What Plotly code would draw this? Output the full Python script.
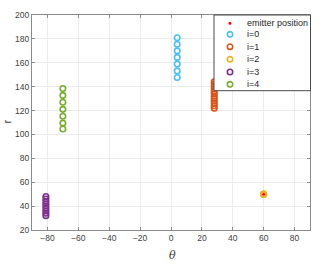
import plotly.graph_objects as go

# Data
emitter_theta = [60]
emitter_r = [50]

theta_i0 = [4, 4, 4, 4, 4, 4, 4]
r_i0 = [181, 175.5, 170, 164.5, 159, 153.2, 147.7]

theta_i1 = [28, 28, 28, 28, 28, 28, 28, 28, 28, 28, 28, 28]
r_i1 = [144, 142, 140, 138, 136, 134, 132, 130, 128, 126, 124, 122]

theta_i2 = [60, 60, 60]
r_i2 = [50, 50, 50]

theta_i3 = [-81, -81, -81, -81, -81, -81, -81, -81, -81]
r_i3 = [48, 46, 44, 42, 40, 38, 36, 34, 32]

theta_i4 = [-70, -70, -70, -70, -70, -70, -70]
r_i4 = [138.5, 132.7, 126.9, 121, 115.2, 109.5, 104.6]

x_ticks = [-80, -60, -40, -20, 0, 20, 40, 60, 80]
y_ticks = [20, 40, 60, 80, 100, 120, 140, 160, 180, 200]

series = [
    ("i=0", theta_i0, r_i0, "#4DBEEE"),
    ("i=1", theta_i1, r_i1, "#D95319"),
    ("i=2", theta_i2, r_i2, "#EDB120"),
    ("i=3", theta_i3, r_i3, "#7E2F8E"),
    ("i=4", theta_i4, r_i4, "#77AC30"),
]

fig = go.Figure()
for name, xs, ys, col in series:
    fig.add_trace(go.Scatter(x=xs, y=ys, mode="markers", name=name, showlegend=False,
                             marker=dict(symbol="circle-open", size=5.5, color=col,
                                         line=dict(width=1.6, color=col))))
fig.add_trace(go.Scatter(x=emitter_theta, y=emitter_r, mode="markers", name="emitter position",
                         showlegend=False, marker=dict(color="red", size=3, symbol="circle")))

axis_common = dict(showline=True, linecolor="#8a8a8a", linewidth=1, mirror="ticks",
                   ticks="inside", ticklen=3, tickcolor="#8a8a8a", automargin=False,
                   showgrid=True, gridcolor="#ebebeb", gridwidth=1, zeroline=False,
                   tickfont=dict(family="Liberation Sans, Arial", size=8.5, color="#404040"))

fig.update_xaxes(range=[-90, 90], tickvals=x_ticks, **axis_common)
fig.update_yaxes(range=[20, 200], tickvals=y_ticks, **axis_common)

# --- manual legend (MATLAB-like compact box) ---
W, H, L, T = 278.0, 215.0, 32.0, 15.0
def px_x(px):
    return (px - L) / W
def px_y(py):
    return 1 - (py - T) / H

shapes = [dict(type="rect", xref="paper", yref="paper",
               x0=px_x(214), x1=px_x(310.5), y0=px_y(90.7), y1=1.0,
               line=dict(color="#4a4a4a", width=1), fillcolor="white", layer="above")]
annotations = []
entries = [("emitter position", "red", True)] + [(n, c, False) for n, _, _, c in series]
ys_px = [23.3, 34.3, 46.7, 59.3, 72, 84.3]
mx = px_x(230)
for (label, col, filled), ypx in zip(entries, ys_px):
    yc = px_y(ypx)
    if filled:
        shapes.append(dict(type="circle", xref="paper", yref="paper", xsizemode="pixel", ysizemode="pixel",
                           xanchor=mx, yanchor=yc, x0=-1.5, x1=1.5, y0=-1.5, y1=1.5,
                           fillcolor=col, line=dict(color=col, width=0), layer="above"))
    else:
        shapes.append(dict(type="circle", xref="paper", yref="paper", xsizemode="pixel", ysizemode="pixel",
                           xanchor=mx, yanchor=yc, x0=-2.7, x1=2.7, y0=-2.7, y1=2.7,
                           line=dict(color=col, width=1.6), layer="above"))
    annotations.append(dict(text=label, xref="paper", yref="paper", x=px_x(245), y=yc,
                            xanchor="left", yanchor="middle", showarrow=False,
                            font=dict(family="Liberation Sans, Arial", size=9, color="#262626")))

# axis titles
annotations.append(dict(text="r", xref="paper", yref="paper", x=px_x(6.5), y=px_y(122),
                        xanchor="center", yanchor="middle", showarrow=False, textangle=-90,
                        font=dict(family="Liberation Sans, Arial", size=11, color="#404040")))
annotations.append(dict(text="<i>θ</i>", xref="paper", yref="paper", x=px_x(172), y=px_y(255),
                        xanchor="center", yanchor="middle", showarrow=False,
                        font=dict(family="DejaVu Serif", size=11, color="#404040")))

fig.update_layout(
    width=332, height=266,
    margin=dict(l=32, r=22, t=15, b=36),
    paper_bgcolor="white", plot_bgcolor="white",
    showlegend=False,
    shapes=shapes, annotations=annotations,
)

fig.write_html("out.html", config={"displayModeBar": False},
               post_script="document.body.style.margin='0';document.body.style.padding='0';")
